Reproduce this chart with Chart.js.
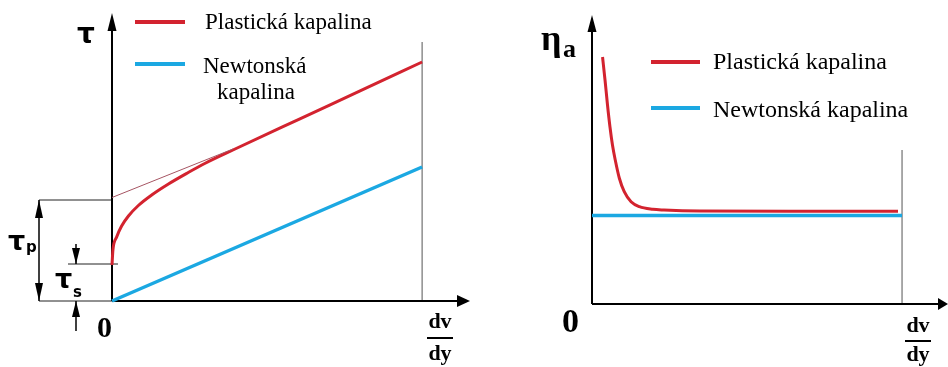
<!DOCTYPE html>
<html>
<head>
<meta charset="utf-8">
<script src="https://cdn.jsdelivr.net/npm/chart.js"></script>
<style>
  body { margin: 0; background: #fff; }
  #wrap { position: relative; width: 948px; height: 367px; }
  canvas { position: absolute; top: 0; }
  #tauChart { left: 0; }
  #etaChart { left: 474px; }
</style>
</head>
<body>
<div id="wrap">
  <canvas id="tauChart" width="474" height="367"></canvas>
  <canvas id="etaChart" width="474" height="367"></canvas>
</div>
<script>
const seriesNames = ["Plastická kapalina", "Newtonská kapalina"];
const RED = "#d3232f";
const BLUE = "#1ba8e2";

// ===== levý graf: tau = f(dv/dy) =====
const tauPlasticX = [0, 0.03, 0.15, 0.31, 0.53, 0.85, 1.28, 1.82, 2.46, 2.99, 3.9, 6.06, 8.0, 10];
const tauPlasticY = [3.6, 5.1, 6.4, 7.5, 8.5, 9.55, 10.6, 11.7, 12.85, 13.75, 15.1, 18.22, 21.01, 23.9];
const tauNewtonX = [0, 10];
const tauNewtonY = [0, 13.4];
const tangentX = [0, 3.9];
const tangentY = [10.35, 15.2];
const tauS = 3.7;
const tauP = 10.1;
const tauRangeEnd = 10;
const tauRangeTop = 25.9;

// ===== pravý graf: eta_a = f(dv/dy) =====
const etaPlasticX = [0.34, 0.42, 0.50, 0.58, 0.66, 0.75, 0.88, 1.04, 1.26, 1.53, 1.96, 2.32, 3.48, 6.71, 9.87];
const etaPlasticY = [24.7, 22.4, 19.9, 17.7, 15.9, 14.4, 12.6, 11.23, 10.23, 9.73, 9.47, 9.4, 9.3, 9.27, 9.27];
const etaNewtonX = [0, 10];
const etaNewtonY = [8.85, 8.85];
const etaRangeEnd = 10;
const etaRangeTop = 15.4;

const pts = (xs, ys) => xs.map((x, i) => ({ x, y: ys[i] }));

function line(ctx, x1, y1, x2, y2, w, color) {
  ctx.beginPath();
  ctx.lineWidth = w;
  ctx.strokeStyle = color;
  ctx.moveTo(x1, y1);
  ctx.lineTo(x2, y2);
  ctx.stroke();
}

// trojúhelníková šipka, dir: "up" | "down" | "right"
function arrow(ctx, tx, ty, dir, len, half) {
  ctx.beginPath();
  ctx.fillStyle = "#000";
  ctx.moveTo(tx, ty);
  if (dir === "up") { ctx.lineTo(tx - half, ty + len); ctx.lineTo(tx + half, ty + len); }
  if (dir === "down") { ctx.lineTo(tx - half, ty - len); ctx.lineTo(tx + half, ty - len); }
  if (dir === "right") { ctx.lineTo(tx - len, ty - half); ctx.lineTo(tx - len, ty + half); }
  ctx.closePath();
  ctx.fill();
}

function text(ctx, str, x, y, font, align) {
  ctx.font = font;
  ctx.fillStyle = "#000";
  ctx.textAlign = align || "left";
  ctx.textBaseline = "alphabetic";
  ctx.fillText(str, x, y);
}

function fraction(ctx, cx, yTop, yBar, yBottom, font) {
  text(ctx, "dv", cx, yTop, font, "center");
  line(ctx, cx - 13, yBar, cx + 13, yBar, 2, "#000");
  text(ctx, "dy", cx, yBottom, font, "center");
}

function baseOptions(padding, xMax, yMax) {
  return {
    responsive: false,
    animation: false,
    layout: { padding },
    plugins: { legend: { display: false }, tooltip: { enabled: false } },
    scales: {
      x: { type: "linear", display: false, min: 0, max: xMax },
      y: { type: "linear", display: false, min: 0, max: yMax },
    },
  };
}

function ds(data, color, width) {
  return {
    data, borderColor: color, borderWidth: width, showLine: true,
    pointRadius: 0, fill: false, clip: false, cubicInterpolationMode: "monotone",
  };
}

const tauDecor = {
  id: "tauDecor",
  beforeDatasetsDraw(chart) {
    const { ctx, chartArea, scales: { x, y } } = chart;
    const x0 = x.getPixelForValue(0);
    const y0 = y.getPixelForValue(0);
    const yP = y.getPixelForValue(tauP);
    const yS = y.getPixelForValue(tauS);
    const xE = x.getPixelForValue(tauRangeEnd);
    ctx.save();
    line(ctx, xE, y.getPixelForValue(tauRangeTop), xE, y0, 1, "#555");
    // kóty tau_p a tau_s
    line(ctx, x0 - 73, yP, x0, yP, 1, "#222");
    line(ctx, x0 - 73, y0, x0, y0, 1, "#222");
    line(ctx, x0 - 73, yP, x0 - 73, y0, 1.5, "#000");
    arrow(ctx, x0 - 73, yP, "up", 18, 4);
    arrow(ctx, x0 - 73, y0, "down", 18, 4);
    line(ctx, x0 - 44, yS, x0 + 6, yS, 1, "#222");
    line(ctx, x0 - 36, yS - 20, x0 - 36, yS, 1.5, "#000");
    arrow(ctx, x0 - 36, yS, "down", 16, 4);
    line(ctx, x0 - 36, y0, x0 - 36, y0 + 30, 1.5, "#000");
    arrow(ctx, x0 - 36, y0, "up", 16, 4);
    // osy
    line(ctx, x0, y0, x0, chartArea.top + 4, 2, "#000");
    line(ctx, x0, y0, chartArea.right - 6, y0, 2, "#000");
    arrow(ctx, x0, chartArea.top - 2, "up", 18, 4.5);
    arrow(ctx, chartArea.right + 2, y0, "right", 13, 6);
    ctx.restore();
  },
  afterDraw(chart) {
    const { ctx } = chart;
    ctx.save();
    text(ctx, "τ", 77, 43, "bold 28px 'DejaVu Sans'");
    text(ctx, "τ", 8, 250, "bold 27px 'DejaVu Sans'");
    text(ctx, "p", 26, 252, "bold 15px 'DejaVu Sans'");
    text(ctx, "τ", 55, 288, "bold 27px 'DejaVu Sans'");
    text(ctx, "s", 73, 297, "bold 15px 'DejaVu Sans'");
    text(ctx, "0", 97, 337, "bold 30px 'Liberation Serif'");
    fraction(ctx, 440, 328, 338, 360, "bold 22px 'Liberation Serif'");
    // legenda
    line(ctx, 135, 22, 185, 22, 4, RED);
    text(ctx, seriesNames[0], 205, 29, "23px 'Liberation Serif'");
    line(ctx, 135, 64, 185, 64, 4, BLUE);
    const parts = seriesNames[1].split(" ");
    text(ctx, parts[0], 203, 73, "23px 'Liberation Serif'");
    text(ctx, parts[1], 217, 99, "23px 'Liberation Serif'");
    ctx.restore();
  },
};

const etaDecor = {
  id: "etaDecor",
  beforeDatasetsDraw(chart) {
    const { ctx, chartArea, scales: { x, y } } = chart;
    const x0 = x.getPixelForValue(0);
    const y0 = y.getPixelForValue(0);
    const xE = x.getPixelForValue(etaRangeEnd);
    ctx.save();
    line(ctx, xE, y.getPixelForValue(etaRangeTop), xE, y0, 1, "#555");
    line(ctx, x0, y0, x0, chartArea.top + 4, 2, "#000");
    line(ctx, x0, y0, chartArea.right - 6, y0, 2, "#000");
    arrow(ctx, x0, chartArea.top - 2, "up", 17, 4.5);
    arrow(ctx, chartArea.right + 1, y0, "right", 10, 6);
    ctx.restore();
  },
  afterDraw(chart) {
    const { ctx } = chart;
    ctx.save();
    text(ctx, "η", 67, 50, "bold 36px 'Liberation Serif'");
    text(ctx, "a", 89, 57, "bold 26px 'Liberation Serif'");
    text(ctx, "0", 88, 332, "bold 34px 'Liberation Serif'");
    fraction(ctx, 444, 332, 341, 361, "bold 22px 'Liberation Serif'");
    line(ctx, 177, 62, 226, 62, 4, RED);
    text(ctx, seriesNames[0], 239, 69, "24px 'Liberation Serif'");
    line(ctx, 177, 108, 226, 108, 4, BLUE);
    text(ctx, seriesNames[1], 239, 117, "24px 'Liberation Serif'");
    ctx.restore();
  },
};

new Chart(document.getElementById("tauChart"), {
  type: "scatter",
  data: {
    datasets: [
      ds(pts(tangentX, tangentY), "#a65563", 1),
      ds(pts(tauNewtonX, tauNewtonY), BLUE, 3.5),
      ds(pts(tauPlasticX, tauPlasticY), RED, 3),
    ],
  },
  options: baseOptions({ left: 112, right: 6, top: 15, bottom: 66 }, 11.48, 28.6),
  plugins: [tauDecor],
});

new Chart(document.getElementById("etaChart"), {
  type: "scatter",
  data: {
    datasets: [
      ds(pts(etaNewtonX, etaNewtonY), BLUE, 3.5),
      ds(pts(etaPlasticX, etaPlasticY), RED, 3),
    ],
  },
  options: baseOptions({ left: 118, right: 1, top: 17, bottom: 63 }, 11.45, 28.7),
  plugins: [etaDecor],
});
</script>
</body>
</html>
